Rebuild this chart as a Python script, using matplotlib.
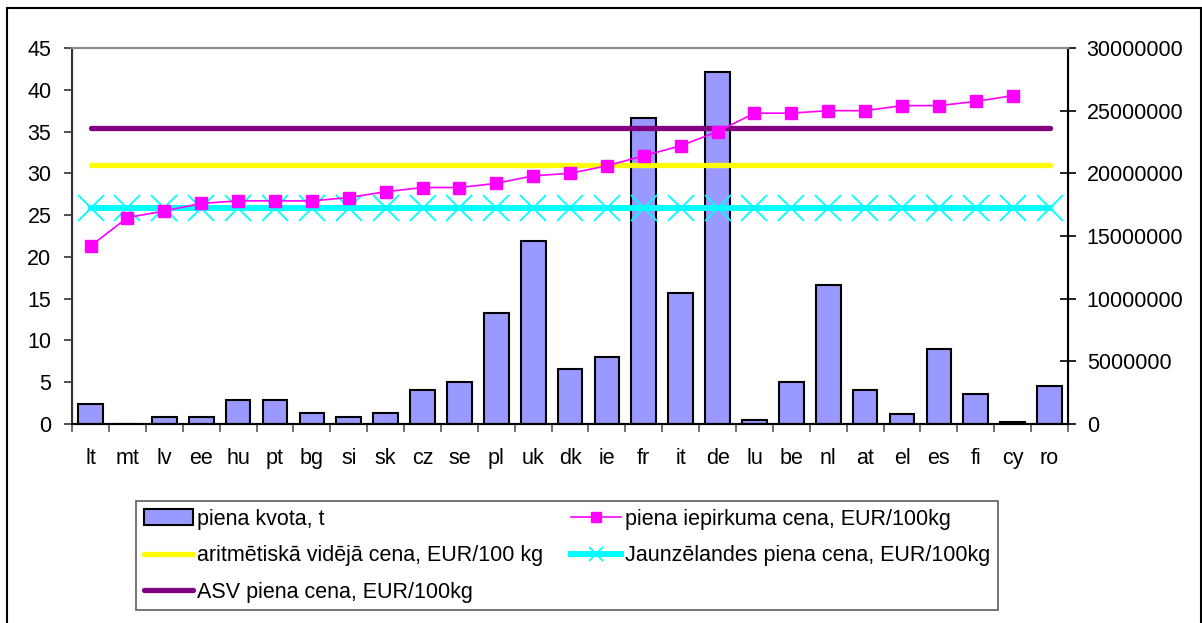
import numpy as np
import matplotlib
matplotlib.use('Agg')
import matplotlib.pyplot as plt
from matplotlib.patches import Rectangle
from matplotlib.ticker import FixedLocator, FuncFormatter

plt.rcParams['font.family'] = ['Liberation Sans', 'DejaVu Sans']

# data
countries = ['lt', 'mt', 'lv', 'ee', 'hu', 'pt', 'bg', 'si', 'sk', 'cz', 'se', 'pl', 'uk', 'dk',
             'ie', 'fr', 'it', 'de', 'lu', 'be', 'nl', 'at', 'el', 'es', 'fi', 'cy', 'ro']
quota_t = [1570000, 0, 580000, 580000, 1890000, 1890000, 900000, 580000, 900000, 2690000,
           3330000, 8880000, 14630000, 4410000, 5370000, 24390000, 10480000, 28060000,
           290000, 3330000, 11120000, 2690000, 770000, 6010000, 2370000, 140000, 3010000]
purchase_price = [21.3, 24.7, 25.5, 26.4, 26.7, 26.7, 26.7, 27.1, 27.8, 28.3, 28.3, 28.8,
                  29.7, 30.0, 30.9, 32.1, 33.3, 35.0, 37.2, 37.2, 37.5, 37.5, 38.1, 38.1,
                  38.6, 39.3, np.nan]
mean_price = [31.0] * len(countries)
nz_price = [25.8] * len(countries)
usa_price = [35.4] * len(countries)

x = np.arange(len(countries))
fs = 15.5

fig = plt.figure(figsize=(12.02, 6.23), dpi=100)
ax = fig.add_axes([0.060, 0.3194, 0.8285, 0.6036])
ax2 = ax.twinx()
ax.set_zorder(ax2.get_zorder() + 1)
ax.patch.set_visible(False)

# bars on the right axis
bars = ax2.bar(x, quota_t, width=0.67, color='#9999FF', edgecolor='black', linewidth=1.5,
               label='piena kvota, t')
ax2.set_ylim(0, 30000000)
ax2.set_yticks(np.arange(0, 30000001, 5000000))
ax2.yaxis.set_major_formatter(FuncFormatter(lambda v, p: '%d' % v))

# lines on the left axis
l_usa, = ax.plot(x, usa_price, color='#800080', lw=3.8, solid_capstyle='round',
                 label='ASV piena cena, EUR/100kg')
l_mean, = ax.plot(x, mean_price, color='#FFFF00', lw=3.8, solid_capstyle='round',
                  label='aritmētiskā vidējā cena, EUR/100 kg')
l_nz, = ax.plot(x, nz_price, color='#00FFFF', lw=4.3, marker='x', markersize=19,
                markeredgewidth=1.3, label='Jaunzēlandes piena cena, EUR/100kg')
l_buy, = ax.plot(x, purchase_price, color='#FF00FF', lw=1.2, marker='s', markersize=8,
                 label='piena iepirkuma cena, EUR/100kg')

ax.set_ylim(0, 45)
ax.set_yticks(np.arange(0, 46, 5))
ax.set_xlim(-0.5, len(countries) - 0.5)

# category ticks between bars, labels centred
ax.xaxis.set_major_locator(FixedLocator(np.arange(-0.5, len(countries), 1)))
ax.xaxis.set_major_formatter(FuncFormatter(lambda v, p: ''))
ax.xaxis.set_minor_locator(FixedLocator(x))
ax.set_xticklabels(countries, minor=True)
ax.tick_params(axis='x', which='major', length=6, width=1.2, color='#555555', direction='out')
ax.tick_params(axis='x', which='minor', length=0, pad=17, labelsize=fs)
ax.tick_params(axis='y', length=6, width=1.2, color='#333333', pad=9, labelsize=fs)
ax2.tick_params(axis='y', length=11, width=1.2, direction='inout', pad=8, labelsize=fs)

ax.spines['top'].set_color('#8c8c8c')
ax2.spines['top'].set_color('#8c8c8c')
ax.spines['top'].set_linewidth(1.5)
ax2.spines['top'].set_linewidth(1.5)
ax.spines['left'].set_color('#333333')
ax.spines['left'].set_linewidth(1.5)
ax2.spines['right'].set_linewidth(1.5)
ax.spines['bottom'].set_linewidth(1.5)
ax2.spines['bottom'].set_linewidth(1.5)

handles = [bars, l_mean, l_usa, l_buy, l_nz]
leg = fig.legend(handles, [h.get_label() for h in handles], ncol=2,
                 loc='upper left', bbox_to_anchor=(136 / 1202, 1 - 501 / 623),
                 fontsize=fs, frameon=True, fancybox=False,
                 handlelength=2.3, handletextpad=0.2, labelspacing=0.72,
                 borderaxespad=0, borderpad=0.35, columnspacing=1.3)
leg.get_frame().set_edgecolor('#333333')
leg.get_frame().set_linewidth(1.2)
for h in leg.legend_handles:
    if hasattr(h, 'set_markersize'):
        h.set_markersize(7 if h.get_marker() == 's' else 10)

# outer chart frame
fig.patches.append(Rectangle((7 / 1202, -0.02), 1194 / 1202, 1.02 - 8 / 623,
                             transform=fig.transFigure, fill=False,
                             edgecolor='black', linewidth=1.5))

fig.savefig('out.png', dpi=100)
